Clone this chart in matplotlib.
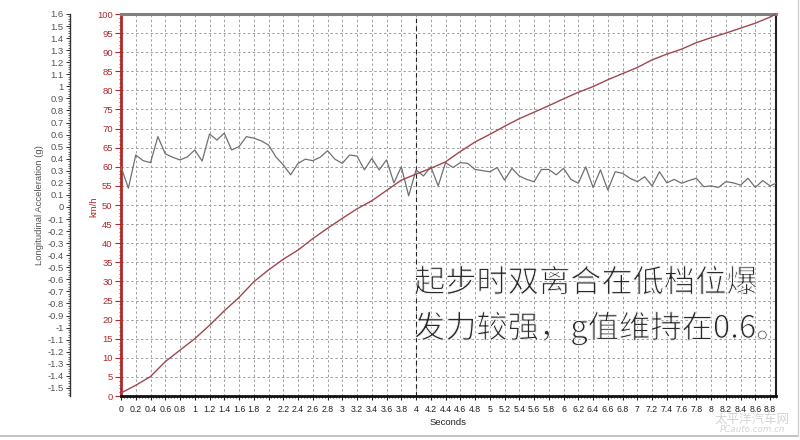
import matplotlib
matplotlib.use("Agg")
import matplotlib.pyplot as plt
import matplotlib.patheffects as pe
from matplotlib.ticker import MultipleLocator, FuncFormatter, FixedLocator
from matplotlib.lines import Line2D
import numpy as np

# speed trace (km/h) vs time (s)
speed_t = [0, 0.2, 0.4, 0.6, 0.8, 1.0, 1.2, 1.4, 1.6, 1.8, 2.0, 2.2, 2.4, 2.6, 2.8,
           3.0, 3.2, 3.4, 3.6, 3.8, 4.0, 4.2, 4.4, 4.6, 4.8, 5.0, 5.2, 5.4, 5.6, 5.8,
           6.0, 6.2, 6.4, 6.6, 6.8, 7.0, 7.2, 7.4, 7.6, 7.8, 8.0, 8.2, 8.4, 8.6, 8.8, 8.88]
speed_kmh = [0.8, 2.8, 5.1, 9.0, 12.0, 15.0, 18.5, 22.3, 25.8, 29.9, 33.0, 35.8, 38.2, 41.2, 43.9,
             46.5, 49.0, 51.1, 53.8, 56.5, 58.1, 59.6, 61.3, 64.0, 66.5, 68.5, 70.6, 72.6, 74.3, 76.0,
             77.8, 79.5, 81.0, 82.8, 84.4, 86.0, 88.0, 89.5, 90.8, 92.5, 93.8, 95.0, 96.3, 97.6, 99.2, 100]

# longitudinal acceleration (g), sampled every 0.1 s
accel_t = [round(i * 0.1, 1) for i in range(89)] + [8.88]
accel_g = [0.600, 0.544, 0.631, 0.616, 0.611, 0.679, 0.634, 0.625, 0.618, 0.626,
           0.644, 0.615, 0.686, 0.670, 0.688, 0.644, 0.653, 0.679, 0.675, 0.668,
           0.657, 0.626, 0.605, 0.579, 0.609, 0.620, 0.616, 0.625, 0.642, 0.620,
           0.609, 0.631, 0.628, 0.592, 0.622, 0.592, 0.618, 0.558, 0.600, 0.524,
           0.592, 0.576, 0.600, 0.550, 0.611, 0.598, 0.611, 0.609, 0.593, 0.590,
           0.587, 0.598, 0.565, 0.596, 0.576, 0.567, 0.561, 0.593, 0.593, 0.579,
           0.596, 0.567, 0.557, 0.600, 0.546, 0.592, 0.539, 0.587, 0.583, 0.570,
           0.561, 0.574, 0.550, 0.587, 0.558, 0.567, 0.557, 0.564, 0.570, 0.548,
           0.550, 0.546, 0.561, 0.558, 0.552, 0.570, 0.546, 0.564, 0.550, 0.557]

note_lines = ["起步时双离合在低档位爆", "发力较强，g值维持在0.6。"]

RED = "#b02828"
LINE_RED = "#a0464e"
GRAY = "#555555"
AXFONT = "Liberation Sans"


def fmt(v, pos=None):
    v = round(v, 2)
    if v == 0:
        return "0"
    return f"{v:g}"


fig = plt.figure(figsize=(8, 4.4), dpi=100)
ax = fig.add_axes([121 / 800, 0.1, 655 / 800, 382 / 440])

ax.plot(accel_t, [g * 100 for g in accel_g], color="#707070", lw=0.9, zorder=3)
ax.plot(speed_t, speed_kmh, color=LINE_RED, lw=1.0, zorder=4)
ax.axvline(4, color="#222222", lw=0.8, ls=(0, (4, 3)), zorder=2)

ax.set_xlim(0, 8.88)
ax.set_ylim(0, 100)
ax.xaxis.set_major_locator(FixedLocator(np.arange(0, 8.81, 0.2)))
ax.xaxis.set_minor_locator(MultipleLocator(0.04))
ax.xaxis.set_major_formatter(FuncFormatter(fmt))
ax.yaxis.set_major_locator(MultipleLocator(5))
ax.yaxis.set_minor_locator(MultipleLocator(1))
ax.grid(True, which="major", color="#a0a0a0", lw=0.7, ls=(0, (2.5, 2.5)))

ax.tick_params(axis="x", which="major", length=3, width=0.8, color="#222222",
               labelsize=6.3, pad=3.5, labelcolor="#222222")
ax.tick_params(axis="x", which="minor", length=1.5, width=0.6, color="#222222")
ax.tick_params(axis="y", which="major", length=4, width=0.8, color=RED,
               labelsize=6.8, pad=2, labelcolor=RED)
ax.tick_params(axis="y", which="minor", length=1.5, width=0.6, color=RED)
for lab in ax.get_xticklabels() + ax.get_yticklabels():
    lab.set_fontfamily(AXFONT)

ax.spines["left"].set_color(RED)
ax.spines["left"].set_linewidth(2)
ax.spines["bottom"].set_color("#111111")
ax.spines["bottom"].set_linewidth(2)
ax.spines["top"].set_color("#808080")
ax.spines["top"].set_linewidth(2.2)
ax.spines["right"].set_color("#222222")
ax.spines["right"].set_linewidth(1.5)

ax.set_xlabel("Seconds", fontsize=6.8, family=AXFONT, color="#222222", labelpad=3)

# left acceleration axis
ax2 = ax.twinx()
ax2.set_ylim(-1.567, 1.6)
ax2.yaxis.tick_left()
ax2.yaxis.set_label_position("left")
for s in ["top", "right", "bottom"]:
    ax2.spines[s].set_visible(False)
ax2.spines["left"].set_position(("axes", (70 - 121) / 655))
ax2.spines["left"].set_color("#333333")
ax2.spines["left"].set_linewidth(1.0)
ax2.yaxis.set_major_locator(FixedLocator(np.arange(-1.5, 1.61, 0.1)))
ax2.yaxis.set_minor_locator(MultipleLocator(0.02))
ax2.yaxis.set_major_formatter(FuncFormatter(fmt))
ax2.tick_params(axis="y", which="major", length=3, width=0.7, color="#333333",
                labelsize=6.8, pad=1.5, labelcolor=GRAY)
ax2.tick_params(axis="y", which="minor", length=1.5, width=0.5, color="#333333")
for lab in ax2.get_yticklabels():
    lab.set_fontfamily(AXFONT)

fig.text(40 / 800, 1 - 205 / 440, "Longitudinal Acceleration (g)", rotation=90,
         ha="center", va="center", fontsize=6.8, family=AXFONT, color=GRAY)
fig.text(94 / 800, 1 - 207 / 440, "km/h", rotation=90, ha="center", va="center",
         fontsize=6.8, family=AXFONT, color=RED)

# annotation, thinned with a white outline on top of the glyphs
thin = [pe.Normal(), pe.Stroke(linewidth=0.7, foreground="white")]
for i, line in enumerate(note_lines):
    fig.text(414 / 800, 1 - (283 + 45 * i) / 440, line, ha="left", va="center",
             fontsize=22.5, family=["Noto Sans CJK SC", "DejaVu Sans"],
             color="#2a2a2a", path_effects=thin)

# watermark
fig.text(752 / 800, 1 - 419 / 440, "太平洋汽车网", ha="center", va="center",
         fontsize=9, family=["Noto Sans CJK SC", "DejaVu Sans"], color="#d4d4d4")
fig.text(752 / 800, 1 - 429.5 / 440, "PCauto.com.cn", ha="center", va="center",
         fontsize=6.3, family="DejaVu Sans", style="italic", color="#d4d4d4")

# image frame
fig.add_artist(Line2D([0, 798 / 800], [1 - 436 / 440] * 2, color="#b8b8b8", lw=1.2,
                      transform=fig.transFigure))
fig.add_artist(Line2D([798 / 800] * 2, [1 - 436 / 440, 1], color="#d0d0d0", lw=1.0,
                      transform=fig.transFigure))

fig.savefig("out.png", dpi=100)
